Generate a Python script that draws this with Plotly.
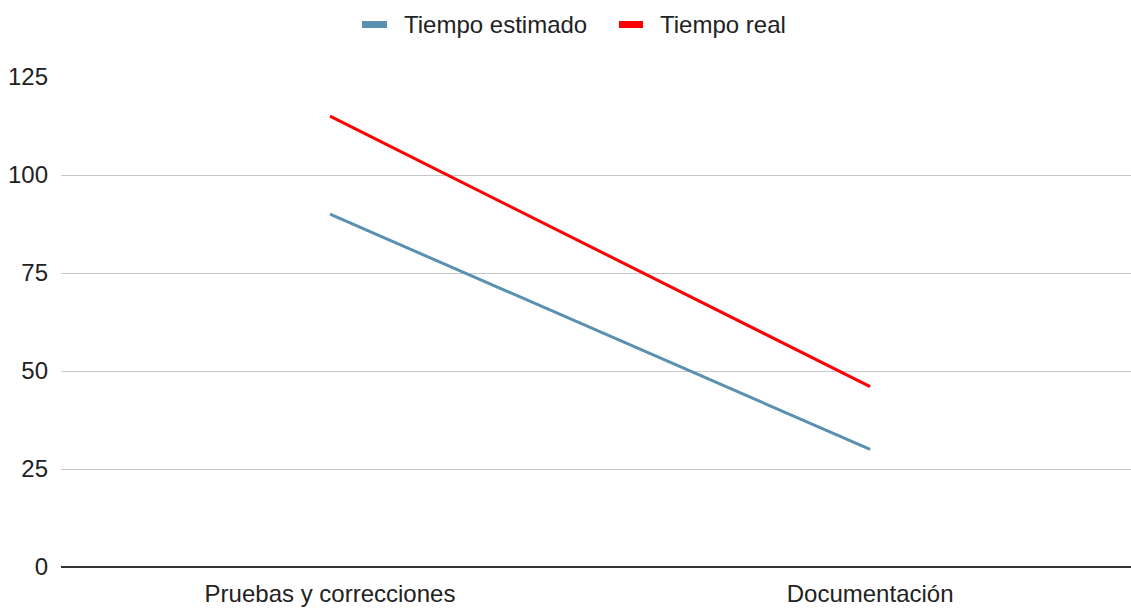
import plotly.graph_objects as go

categorias = ["Pruebas y correcciones", "Documentación"]
tiempo_estimado = [90, 30]
tiempo_real = [115, 46]
ticks_y = [0, 25, 50, 75, 100, 125]
series = ["Tiempo estimado", "Tiempo real"]

AZUL = "#5a91b0"
ROJO = "#ff0000"
FUENTE = "Liberation Sans, Arial, sans-serif"
TEXTO = "#222222"
TAM = 24

W, H = 1131, 608
M_L, M_R, M_T, M_B = 61, 0, 77, 41
PW, PH = W - M_L - M_R, H - M_T - M_B


def px_x(p):
    return (p - M_L) / PW


def px_y(p):
    return (H - M_B - p) / PH


fig = go.Figure()
fig.add_trace(go.Scatter(x=categorias, y=tiempo_estimado, mode="lines",
                         name=series[0], line=dict(color=AZUL, width=3)))
fig.add_trace(go.Scatter(x=categorias, y=tiempo_real, mode="lines",
                         name=series[1], line=dict(color=ROJO, width=3)))

# Top legend: short thick keys followed by the series names
claves = [(362, 387, 402, AZUL, series[0]), (619, 643, 658, ROJO, series[1])]
for x0, x1, xt, color, nombre in claves:
    fig.add_shape(type="rect", xref="paper", yref="paper",
                  x0=px_x(x0), x1=px_x(x1), y0=px_y(28), y1=px_y(21),
                  fillcolor=color, line=dict(width=0))
    fig.add_annotation(xref="paper", yref="paper", x=px_x(xt), y=px_y(24),
                       xanchor="left", yanchor="middle", showarrow=False,
                       text=nombre, font=dict(size=TAM, color=TEXTO))

fig.update_layout(
    width=W, height=H,
    margin=dict(l=M_L, r=M_R, t=M_T, b=M_B),
    paper_bgcolor="white", plot_bgcolor="white",
    font=dict(family=FUENTE, size=TAM, color=TEXTO),
    showlegend=False,
    xaxis=dict(type="category", range=[-0.498, 1.483], showgrid=False,
               showline=False, zeroline=False, ticks="", ticklabelstandoff=10,
               tickfont=dict(size=TAM, color=TEXTO)),
    yaxis=dict(range=[0, 125], tickvals=ticks_y, showgrid=True, gridcolor="#c8c8c8",
               gridwidth=1.3, zeroline=True, zerolinecolor="#333333", zerolinewidth=2,
               showline=False, ticks="", ticklabelstandoff=12,
               tickfont=dict(size=TAM, color=TEXTO)),
)

fig.write_html("out.html")
